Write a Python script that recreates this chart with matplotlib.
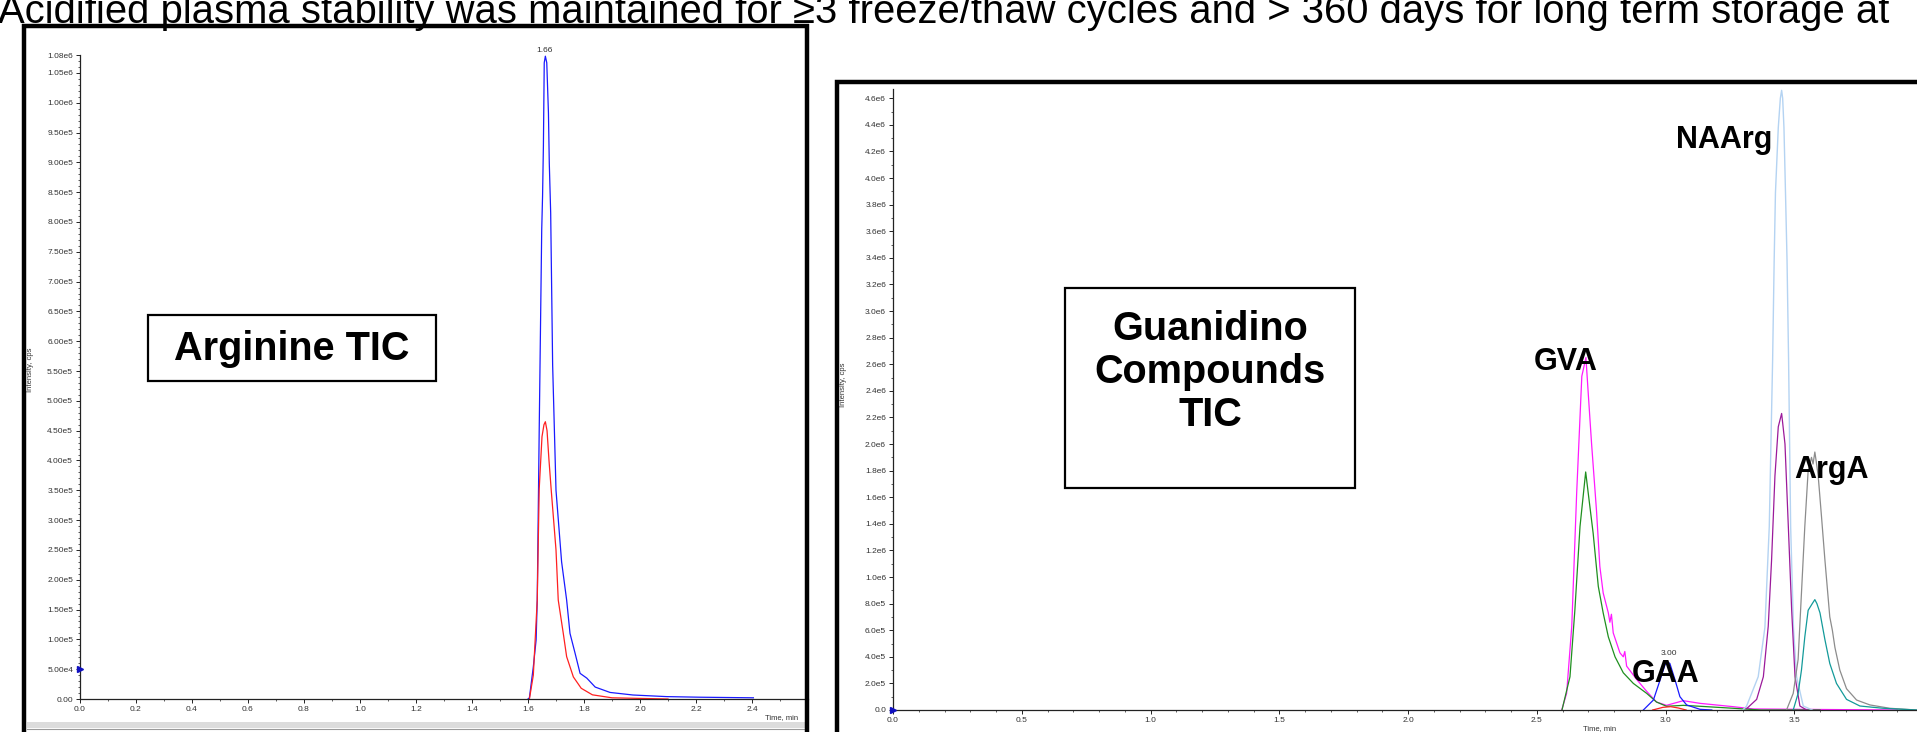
import numpy as np
import matplotlib
matplotlib.use('Agg')
from matplotlib import pyplot as plt
from matplotlib import font_manager
from matplotlib.patches import Rectangle
from matplotlib.ticker import FixedLocator, MultipleLocator

W, H = 1917, 732

TITLE = ('Acidified plasma stability was maintained for \u22653 freeze/thaw cycles '
         'and > 360 days for long term storage at')

# Arginine TIC: time (min) and intensity (cps)
arg_blue_t = [1.600, 1.605, 1.619, 1.629, 1.633, 1.640, 1.649, 1.652, 1.655, 1.658,
              1.662, 1.667, 1.673, 1.676, 1.681, 1.688, 1.700, 1.720, 1.738, 1.750,
              1.768, 1.786, 1.810, 1.840, 1.893, 1.975, 2.095, 2.214, 2.405]
arg_blue_i = [0.0, 2e3, 5.4e4, 9.9e4, 1.66e5, 4.5e5, 7.87e5, 8.43e5, 9.27e5, 1.067e6,
              1.078e6, 1.067e6, 9.83e5, 8.99e5, 8.15e5, 5.6e5, 3.5e5, 2.3e5, 1.66e5, 1.1e5,
              7.7e4, 4.3e4, 3.5e4, 2.0e4, 1.1e4, 6.7e3, 4e3, 3e3, 2e3]
arg_red_t = [1.605, 1.619, 1.633, 1.640, 1.650, 1.657, 1.662, 1.668, 1.675, 1.683,
             1.700, 1.708, 1.726, 1.738, 1.762, 1.790, 1.830, 1.900, 2.000, 2.100]
arg_red_i = [0.0, 4e4, 1.66e5, 3.52e5, 4.4e5, 4.6e5, 4.65e5, 4.5e5, 4.0e5, 3.5e5,
             2.5e5, 1.66e5, 1.1e5, 7.1e4, 3.7e4, 1.8e4, 7e3, 2e3, 1e3, 0.0]
arg_peak = (1.66, '1.66')
arg_yticks = [0, 5e4, 1e5, 1.5e5, 2e5, 2.5e5, 3e5, 3.5e5, 4e5, 4.5e5, 5e5, 5.5e5, 6e5,
              6.5e5, 7e5, 7.5e5, 8e5, 8.5e5, 9e5, 9.5e5, 1e6, 1.05e6, 1.08e6]
arg_ylabels = ['0.00', '5.00e4', '1.00e5', '1.50e5', '2.00e5', '2.50e5', '3.00e5', '3.50e5',
               '4.00e5', '4.50e5', '5.00e5', '5.50e5', '6.00e5', '6.50e5', '7.00e5', '7.50e5',
               '8.00e5', '8.50e5', '9.00e5', '9.50e5', '1.00e6', '1.05e6', '1.08e6']
arg_xticks = [0.0, 0.2, 0.4, 0.6, 0.8, 1.0, 1.2, 1.4, 1.6, 1.8, 2.0, 2.2, 2.4]

# Guanidino compounds TIC: time (min) and intensity (1e6 cps)
gva_t = [2.597, 2.616, 2.636, 2.655, 2.675, 2.691, 2.700, 2.713, 2.732, 2.745, 2.758,
         2.778, 2.784, 2.790, 2.797, 2.823, 2.836, 2.842, 2.849, 2.888, 2.927, 2.965,
         3.004, 3.069, 3.134, 3.263, 3.340, 3.600, 3.900]
gva_i = [0.0, 0.125, 0.63, 1.63, 2.51, 2.65, 2.38, 2.0, 1.5, 1.08, 0.88,
         0.73, 0.66, 0.72, 0.58, 0.43, 0.40, 0.44, 0.33, 0.23, 0.14, 0.06,
         0.035, 0.07, 0.05, 0.025, 0.008, 0.004, 0.0]
gva2_t = [2.598, 2.629, 2.648, 2.668, 2.690, 2.700, 2.719, 2.739, 2.758, 2.778, 2.804,
          2.836, 2.875, 2.927, 2.965, 3.004, 3.069, 3.134, 3.263, 3.370, 3.600]
gva2_i = [0.0, 0.25, 0.75, 1.38, 1.79, 1.63, 1.33, 0.93, 0.73, 0.55, 0.40,
          0.28, 0.20, 0.125, 0.06, 0.028, 0.035, 0.028, 0.013, 0.0, 0.0]
gaa_t = [2.914, 2.953, 2.979, 2.998, 3.008, 3.017, 3.037, 3.056, 3.082, 3.134, 3.180]
gaa_i = [0.0, 0.075, 0.226, 0.34, 0.36, 0.35, 0.226, 0.10, 0.038, 0.005, 0.0]
gaa2_t = [2.95, 2.99, 3.02, 3.05, 3.08]
gaa2_i = [0.0, 0.02, 0.025, 0.015, 0.0]
naarg_t = [3.300, 3.315, 3.360, 3.386, 3.403, 3.416, 3.422, 3.427, 3.438, 3.446, 3.451,
           3.455, 3.460, 3.466, 3.472, 3.478, 3.486, 3.497, 3.509, 3.535, 3.570]
naarg_i = [0.0, 0.03, 0.25, 0.62, 1.38, 2.63, 3.38, 3.89, 4.38, 4.60, 4.66,
           4.60, 4.38, 3.89, 3.38, 2.63, 1.38, 0.62, 0.25, 0.03, 0.0]
naarg2_t = [3.315, 3.354, 3.380, 3.399, 3.412, 3.425, 3.438, 3.451, 3.464, 3.477,
            3.490, 3.503, 3.522, 3.548]
naarg2_i = [0.01, 0.08, 0.25, 0.63, 1.13, 1.76, 2.13, 2.23, 2.0, 1.38,
            0.75, 0.25, 0.03, 0.0]
arga_t = [3.470, 3.496, 3.515, 3.528, 3.541, 3.554, 3.567, 3.573, 3.580, 3.586, 3.593,
          3.606, 3.619, 3.638, 3.648, 3.658, 3.677, 3.703, 3.742, 3.794, 3.871, 3.975]
arga_i = [0.0, 0.125, 0.38, 0.88, 1.38, 1.80, 1.90, 1.85, 1.94, 1.86, 1.76,
          1.45, 1.13, 0.70, 0.60, 0.47, 0.30, 0.16, 0.075, 0.038, 0.013, 0.0]
arga2_t = [3.496, 3.515, 3.528, 3.541, 3.554, 3.570, 3.580, 3.588, 3.600, 3.619, 3.638,
           3.664, 3.703, 3.755, 3.845, 3.975]
arga2_i = [0.0, 0.125, 0.30, 0.55, 0.75, 0.80, 0.83, 0.80, 0.73, 0.53, 0.35,
           0.20, 0.08, 0.03, 0.013, 0.0]
gua_peak = (3.00, '3.00')
gua_yticks = [0.0, 0.2, 0.4, 0.6, 0.8, 1.0, 1.2, 1.4, 1.6, 1.8, 2.0, 2.2, 2.4, 2.6, 2.8,
              3.0, 3.2, 3.4, 3.6, 3.8, 4.0, 4.2, 4.4, 4.6]
gua_ylabels = ['0.0', '2.0e5', '4.0e5', '6.0e5', '8.0e5', '1.0e6', '1.2e6', '1.4e6', '1.6e6',
               '1.8e6', '2.0e6', '2.2e6', '2.4e6', '2.6e6', '2.8e6', '3.0e6', '3.2e6', '3.4e6',
               '3.6e6', '3.8e6', '4.0e6', '4.2e6', '4.4e6', '4.6e6']
gua_xticks = [0.0, 0.5, 1.0, 1.5, 2.0, 2.5, 3.0, 3.5, 4.0]

# Compound labels: (text, x px, baseline y px)
COMPOUND_LABELS = [('GVA', 1566, 370), ('GAA', 1666, 682), ('NAArg', 1724, 148), ('ArgA', 1831, 478)]


def px_rect(x0, y0, x1, y1):
    return [x0 / W, 1 - y1 / H, (x1 - x0) / W, (y1 - y0) / H]


def fx(x):
    return x / W


def fy(y):
    return 1 - y / H


plt.rcParams['font.family'] = ['Liberation Sans', 'DejaVu Sans']

fig = plt.figure(figsize=(W / 100, H / 100), dpi=100)
fig.patch.set_facecolor('white')


def style_axes(ax):
    ax.patch.set_alpha(0)
    for side in ['top', 'right']:
        ax.spines[side].set_visible(False)
    for side in ['left', 'bottom']:
        ax.spines[side].set_linewidth(0.9)
        ax.spines[side].set_color('#222222')
    ax.tick_params(which='major', direction='out', length=3, width=0.7,
                   labelsize=6, pad=2, colors='#222222', labelcolor='#333333')
    ax.tick_params(which='minor', direction='out', length=1.6, width=0.6, colors='#444444')


# Left panel: Arginine
ax1 = fig.add_axes(px_rect(80, 55, 808, 699))
ax1.plot(arg_blue_t, arg_blue_i, color='#1a1aff', lw=0.9)
ax1.plot(arg_red_t, arg_red_i, color='#ff2020', lw=0.9)
ax1.set_xlim(0, 2.6)
ax1.set_ylim(0, 1.08e6)
style_axes(ax1)
ax1.yaxis.set_major_locator(FixedLocator(arg_yticks))
ax1.set_yticklabels(arg_ylabels)
ax1.yaxis.set_minor_locator(MultipleLocator(1e4))
ax1.xaxis.set_major_locator(FixedLocator(arg_xticks))
ax1.set_xticklabels([f'{v:.1f}' for v in arg_xticks])
ax1.xaxis.set_minor_locator(MultipleLocator(0.1))
ax1.plot([0], [5e4], marker='>', color='#1010c0', ms=5, clip_on=False, zorder=5)
ax1.text(arg_peak[0], max(arg_blue_i) * 1.004, arg_peak[1], fontsize=6,
         color='#333333', ha='center', va='bottom')

# Right panel: Guanidino compounds
ax2 = fig.add_axes(px_rect(893, 89, 893 + 4.2 * 257.5, 710))
ax2.plot(gva_t, gva_i, color='#ff1aff', lw=0.9)
ax2.plot(gva2_t, gva2_i, color='#1f8f1f', lw=0.9)
ax2.plot(gaa_t, gaa_i, color='#1a1aff', lw=0.9)
ax2.plot(gaa2_t, gaa2_i, color='#ff2020', lw=0.9)
ax2.plot(naarg_t, naarg_i, color='#b4d3f2', lw=1.0)
ax2.plot(naarg2_t, naarg2_i, color='#9b1a9b', lw=0.9)
ax2.plot(arga_t, arga_i, color='#8c8c8c', lw=0.9)
ax2.plot(arga2_t, arga2_i, color='#139a9a', lw=0.9)
ax2.set_xlim(0, 4.2)
ax2.set_ylim(0, 4.67)
style_axes(ax2)
ax2.yaxis.set_major_locator(FixedLocator(gua_yticks))
ax2.set_yticklabels(gua_ylabels)
ax2.yaxis.set_minor_locator(MultipleLocator(0.1))
ax2.xaxis.set_major_locator(FixedLocator(gua_xticks))
ax2.set_xticklabels([f'{v:.1f}' for v in gua_xticks])
ax2.xaxis.set_minor_locator(MultipleLocator(0.1))
ax2.plot([0], [0], marker='>', color='#1010c0', ms=5, clip_on=False, zorder=5)
ax2.text(gua_peak[0] + 0.015, 0.40, gua_peak[1], fontsize=6, color='#333333',
         ha='center', va='bottom')

# Axis titles
fig.text(fx(30), fy(370), 'Intensity, cps', rotation=90, fontsize=5.5,
         color='#333333', ha='center', va='center')
fig.text(fx(843), fy(385), 'Intensity, cps', rotation=90, fontsize=5.5,
         color='#333333', ha='center', va='center')
fig.text(fx(798), fy(718), 'Time, min', fontsize=5.5, color='#333333',
         ha='right', va='center')
fig.text(fx(1600), fy(729), 'Time, min', fontsize=5.5, color='#333333',
         ha='center', va='center')

# Panel frames
fig.add_artist(Rectangle((fx(27), fy(728)), fx(805) - fx(27), fy(722) - fy(728),
                         transform=fig.transFigure, facecolor='#dcdcdc',
                         edgecolor='none', zorder=2))
fig.add_artist(plt.Line2D([fx(27), fx(805)], [fy(728.5), fy(728.5)],
                          transform=fig.transFigure, color='#9a9a9a', lw=0.8, zorder=2))
fig.add_artist(Rectangle((fx(24), fy(745)), fx(807) - fx(24), fy(26) - fy(745),
                         transform=fig.transFigure, facecolor='none',
                         edgecolor='black', lw=3.2, zorder=3))
fig.add_artist(Rectangle((fx(837), fy(745)), fx(1940) - fx(837), fy(82) - fy(745),
                         transform=fig.transFigure, facecolor='none',
                         edgecolor='black', lw=3.2, zorder=3))

# Callout boxes
fig.add_artist(Rectangle((fx(148), fy(381)), fx(436) - fx(148), fy(315) - fy(381),
                         transform=fig.transFigure, facecolor='white',
                         edgecolor='black', lw=1.6, zorder=3))
fig.text(fx(292), fy(349), 'Arginine TIC', fontsize=28.5, fontweight='bold',
         ha='center', va='center', zorder=4)
fig.add_artist(Rectangle((fx(1065), fy(488)), fx(1355) - fx(1065), fy(288) - fy(488),
                         transform=fig.transFigure, facecolor='white',
                         edgecolor='black', lw=1.6, zorder=3))
fig.text(fx(1210), fy(372), 'Guanidino\nCompounds\nTIC', fontsize=28.5,
         fontweight='bold', ha='center', va='center', linespacing=1.15, zorder=4)

for label, x, y in COMPOUND_LABELS:
    fig.text(fx(x), fy(y), label, fontsize=22, fontweight='bold',
             ha='center', va='baseline', zorder=4)

# Slide heading, clipped at the top edge
names = {f.name for f in font_manager.fontManager.ttflist}
title_family = ['Liberation Sans Narrow', 'Liberation Sans'] \
    if 'Liberation Sans Narrow' in names else ['Liberation Sans']
title = fig.text(fx(-2), fy(23), TITLE, fontsize=29, family=title_family,
                 ha='left', va='baseline', color='black')
renderer = fig.canvas.get_renderer()
width = title.get_window_extent(renderer).width
title.set_fontsize(29 * 1890 / width)

fig.savefig('out.png', dpi=100)
